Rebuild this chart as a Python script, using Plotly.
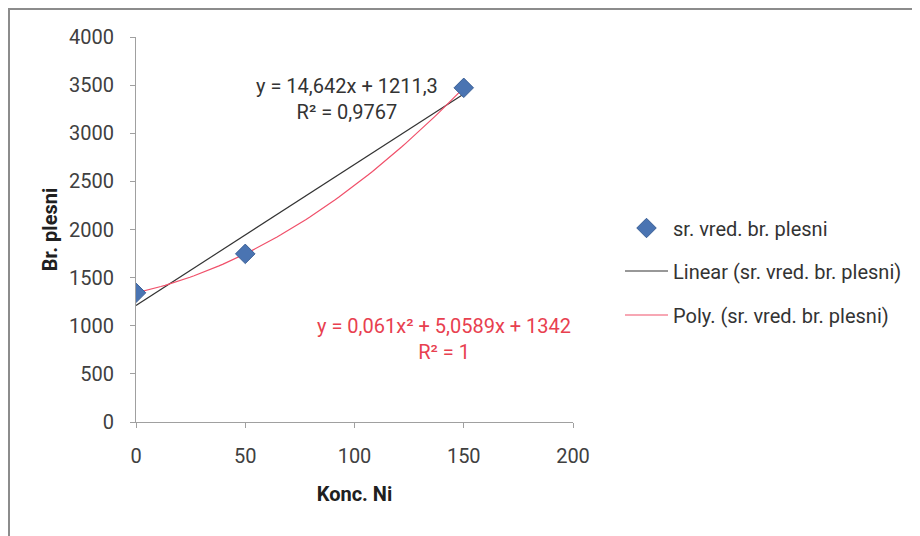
import numpy as np
import plotly.graph_objects as go

# Data
konc_ni = [0, 50, 150]
br_plesni = [1342, 1747, 3472]
x_ticks = [0, 50, 100, 150, 200]
y_ticks = [0, 500, 1000, 1500, 2000, 2500, 3000, 3500, 4000]
series_name = "sr. vred. br. plesni"
lin_label = ["y = 14,642x + 1211,3", "R² = 0,9767"]
poly_label = ["y = 0,061x² + 5,0589x + 1342", "R² = 1"]

FONT = "Roboto, Arial"
FS = 20

# Trendlines fitted from the data
lin_c = np.polyfit(konc_ni, br_plesni, 1)
poly_c = np.polyfit(konc_ni, br_plesni, 2)
xs = np.linspace(min(konc_ni), max(konc_ni), 80)

fig = go.Figure()
fig.add_trace(go.Scatter(
    x=xs, y=np.polyval(lin_c, xs), mode="lines",
    name="Linear (" + series_name + ")",
    line=dict(color="#333333", width=1.2), legend="legend2"))
fig.add_trace(go.Scatter(
    x=xs, y=np.polyval(poly_c, xs), mode="lines",
    name="Poly. (" + series_name + ")",
    line=dict(color="#F0506A", width=1.2), legend="legend3"))
fig.add_trace(go.Scatter(
    x=konc_ni, y=br_plesni, mode="markers", name=series_name,
    marker=dict(symbol="diamond", size=15, color="#4A74B2",
                line=dict(color="#3A5F95", width=1)),
    legend="legend"))

# plot area in figure px: left 128, top 29, width 437, height 385
L, T, W, H = 128, 29, 437, 385
leg_common = dict(font=dict(family=FONT, size=FS, color="#333333"),
                  bgcolor="rgba(0,0,0,0)", borderwidth=0, itemwidth=43,
                  xanchor="left", yanchor="middle", x=(612 - L) / W)
fig.update_layout(
    width=912, height=528, showlegend=True,
    margin=dict(l=L, r=912 - L - W, t=T, b=528 - T - H),
    paper_bgcolor="white", plot_bgcolor="white",
    font=dict(family=FONT, size=FS, color="#404040"),
    legend=dict(**leg_common, y=(422 - 228) / H),
    legend2=dict(**leg_common, y=(422 - 271) / H),
    legend3=dict(**leg_common, y=(422 - 315) / H),
    xaxis=dict(range=[0, 200], tickvals=x_ticks, showgrid=False,
               zeroline=False, showline=True, linecolor="#A0A0A0",
               linewidth=1, ticks="outside", ticklen=5,
               tickcolor="#A0A0A0", ticklabelstandoff=11,
               title=dict(text="<b>Konc. Ni</b>", standoff=19,
                          font=dict(family=FONT, size=FS, color="#202020"))),
    yaxis=dict(range=[0, 4000], tickvals=y_ticks, showgrid=False,
               zeroline=False, showline=True, linecolor="#A0A0A0",
               linewidth=1, ticks="outside", ticklen=5,
               tickcolor="#A0A0A0", ticklabelstandoff=12,
               title=dict(text="<b>Br. plesni</b>", standoff=6,
                          font=dict(family=FONT, size=FS, color="#202020"))),
)

# Outer chart frame
fig.add_shape(type="rect", xref="paper", yref="paper",
              x0=(1 - L) / W, x1=(960 - L) / W,
              y0=-(600 - T - H) / H, y1=(H + T - 1) / H,
              line=dict(color="#8C8C8C", width=2), layer="below")

fig.add_annotation(x=96.6, y=3356, xref="x", yref="y", showarrow=False,
                   text=lin_label[0] + "<br>" + lin_label[1],
                   font=dict(family=FONT, size=FS, color="#333333"),
                   align="center")
fig.add_annotation(x=141, y=862, xref="x", yref="y", showarrow=False,
                   text=poly_label[0] + "<br>" + poly_label[1],
                   font=dict(family=FONT, size=FS, color="#E8404F"),
                   align="center")

fig.write_html("out.html")
